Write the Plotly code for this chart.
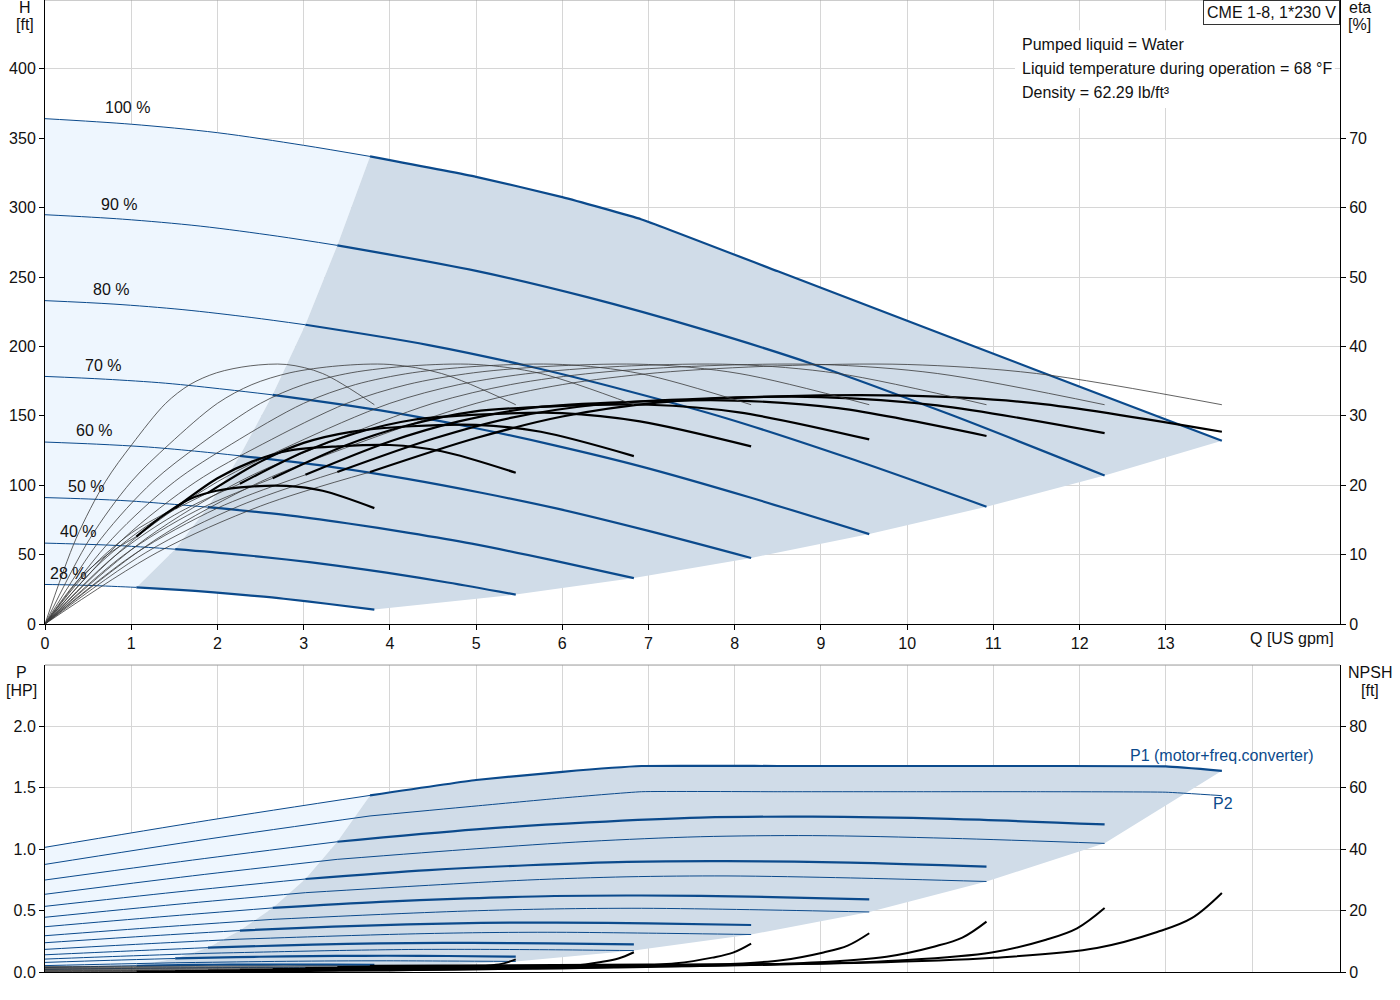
import plotly.graph_objects as go

SPEEDS = ["100 %", "90 %", "80 %", "70 %", "60 %", "50 %", "40 %", "28 %"]

# Q-H curves, below the min. flow (thin part)
H_LOW_Q = [
    [0, 1, 2, 3, 3.77],
    [0, 0.9, 1.8, 2.7, 3.39],
    [0, 0.8, 1.6, 2.4, 3.02],
    [0, 0.7, 1.4, 2.1, 2.64],
    [0, 0.6, 1.2, 1.8, 2.26],
    [0, 0.5, 1.0, 1.5, 1.89],
    [0, 0.4, 0.8, 1.2, 1.51],
    [0, 0.28, 0.56, 0.84, 1.06],
]
H_LOW = [
    [364.1, 360.1, 354.0, 344.9, 336.9],
    [294.9, 291.7, 286.7, 279.4, 272.8],
    [233.0, 230.5, 226.5, 220.8, 215.6],
    [178.4, 176.4, 173.5, 169.0, 165.1],
    [131.1, 129.6, 127.5, 124.2, 121.2],
    [91.1, 90.1, 88.6, 86.2, 84.2],
    [58.3, 57.6, 56.7, 55.2, 53.9],
    [28.5, 28.2, 27.7, 27.0, 26.4],
]

# operating range flows (thick part), used by H, P1 and P2
OP_Q = [
    [3.77, 5.0, 6.0, 6.92, 8.5, 10.0, 11.5, 13.0, 13.65],
    [3.39, 5.0, 6.3, 7.6, 8.9, 10.5, 12.29],
    [3.02, 4.45, 5.6, 6.75, 7.91, 9.34, 10.92],
    [2.64, 3.89, 4.9, 5.91, 6.92, 8.17, 9.56],
    [2.26, 3.34, 4.2, 5.06, 5.93, 7.0, 8.19],
    [1.89, 2.78, 3.5, 4.22, 4.95, 5.84, 6.83],
    [1.51, 2.22, 2.8, 3.38, 3.96, 4.67, 5.46],
    [1.06, 1.56, 1.96, 2.36, 2.77, 3.27, 3.82],
]
H_OP = [
    [336.9, 322.2, 307.6, 291.5, 254.1, 218.5, 182.9, 147.3, 132.1],
    [272.8, 254.4, 235.3, 212.8, 187.4, 150.9, 107.0],
    [215.6, 201.0, 185.9, 168.1, 148.1, 119.2, 84.5],
    [165.1, 153.9, 142.3, 128.7, 113.4, 91.3, 64.8],
    [121.2, 113.1, 104.6, 94.6, 83.3, 67.1, 47.6],
    [84.2, 78.6, 72.6, 65.7, 57.9, 46.6, 33.1],
    [53.9, 50.2, 46.5, 42.1, 37.0, 29.9, 21.2],
    [26.4, 24.6, 22.8, 20.6, 18.2, 14.6, 10.4],
]

# pump efficiency [%] (thin, whole range) - same values for every speed
ETA_PUMP = [0, 12.3, 20.5, 25.9, 31.8, 34.5, 36.2, 37.2, 37.4, 36.1, 31.6]
ETA_PUMP_Q = [
    [0, 1.3, 2.5, 3.6, 5, 6, 7.1, 8.5, 10, 11.5, 13.65],
    [0, 1.17, 2.25, 3.24, 4.5, 5.4, 6.39, 7.65, 9.0, 10.35, 12.29],
    [0, 1.04, 2.0, 2.88, 4.0, 4.8, 5.68, 6.8, 8.0, 9.2, 10.92],
    [0, 0.91, 1.75, 2.52, 3.5, 4.2, 4.97, 5.95, 7.0, 8.05, 9.56],
    [0, 0.78, 1.5, 2.16, 3.0, 3.6, 4.26, 5.1, 6.0, 6.9, 8.19],
    [0, 0.65, 1.25, 1.8, 2.5, 3.0, 3.55, 4.25, 5.0, 5.75, 6.83],
    [0, 0.52, 1.0, 1.44, 2.0, 2.4, 2.84, 3.4, 4.0, 4.6, 5.46],
    [0, 0.36, 0.7, 1.01, 1.4, 1.68, 1.99, 2.38, 2.8, 3.22, 3.82],
]

# total efficiency [%]
ETA_TOT_LOW_Q = [
    [0, 1.3, 2.5, 3.77],
    [0, 1.17, 2.25, 3.39],
    [0, 1.04, 2.0, 3.02],
    [0, 0.91, 1.75, 2.64],
    [0, 0.78, 1.5, 2.26],
    [0, 0.65, 1.25, 1.89],
    [0, 0.52, 1.0, 1.51],
    [0, 0.36, 0.7, 1.06],
]
ETA_TOT_LOW = [
    [0, 10.3, 17.0, 21.9],
    [0, 10.3, 17.0, 21.9],
    [0, 10.1, 16.7, 21.5],
    [0, 9.9, 16.3, 21.0],
    [0, 9.5, 15.7, 20.2],
    [0, 8.9, 14.7, 18.9],
    [0, 7.9, 13.1, 16.7],
    [0, 6.0, 9.8, 12.6],
]
ETA_TOT_OP_Q = [
    [3.77, 5, 6, 7.1, 8.5, 10, 11.5, 13.65],
    [3.39, 4.5, 5.4, 6.39, 7.65, 9.0, 10.35, 12.29],
    [3.02, 4.0, 4.8, 5.68, 6.8, 8.0, 9.2, 10.92],
    [2.64, 3.5, 4.2, 4.97, 5.95, 7.0, 8.05, 9.56],
    [2.26, 3.0, 3.6, 4.26, 5.1, 6.0, 6.9, 8.19],
    [1.89, 2.5, 3.0, 3.55, 4.25, 5.0, 5.75, 6.83],
    [1.51, 2.0, 2.4, 2.84, 3.4, 4.0, 4.6, 5.46],
    [1.06, 1.4, 1.68, 1.99, 2.38, 2.8, 3.22, 3.82],
]
ETA_TOT_OP = [
    [21.9, 26.8, 29.9, 31.9, 32.8, 32.9, 31.8, 27.7],
    [21.9, 26.7, 29.7, 31.6, 32.5, 32.7, 31.5, 27.5],
    [21.5, 26.3, 29.2, 31.2, 32.0, 32.2, 31.1, 27.1],
    [21.0, 25.8, 28.6, 30.6, 31.4, 31.6, 30.5, 26.6],
    [20.2, 24.8, 27.5, 29.4, 30.2, 30.4, 29.2, 25.6],
    [18.9, 23.4, 26.1, 27.7, 28.5, 28.7, 27.7, 24.2],
    [16.7, 21.0, 23.4, 25.0, 25.6, 25.8, 24.9, 21.8],
    [12.6, 15.9, 18.0, 19.2, 19.8, 19.9, 19.2, 16.7],
]

# power curves [HP], below min. flow
P_LOW_Q = [
    [0, 1.9, 3.77],
    [0, 1.71, 3.39],
    [0, 1.52, 3.02],
    [0, 1.33, 2.64],
    [0, 1.14, 2.26],
    [0, 0.95, 1.89],
    [0, 0.76, 1.51],
    [0, 0.53, 1.06],
]
P1_LOW = [
    [1.014, 1.234, 1.436],
    [0.748, 0.910, 1.059],
    [0.534, 0.650, 0.756],
    [0.368, 0.448, 0.521],
    [0.238, 0.290, 0.337],
    [0.140, 0.170, 0.198],
    [0.078, 0.095, 0.110],
    [0.036, 0.044, 0.051],
]
P2_LOW = [
    [0.875, 1.082, 1.269],
    [0.632, 0.782, 0.916],
    [0.445, 0.550, 0.645],
    [0.295, 0.365, 0.428],
    [0.184, 0.228, 0.267],
    [0.105, 0.130, 0.152],
    [0.052, 0.064, 0.075],
    [0.021, 0.026, 0.030],
]
# power curves in operating range (flows = OP_Q)
P1_OP = [
    [1.436, 1.561, 1.628, 1.675, 1.675, 1.675, 1.675, 1.672, 1.636],
    [1.059, 1.160, 1.216, 1.255, 1.263, 1.245, 1.200],
    [0.756, 0.828, 0.868, 0.896, 0.902, 0.889, 0.857],
    [0.521, 0.571, 0.598, 0.618, 0.622, 0.613, 0.590],
    [0.337, 0.369, 0.387, 0.399, 0.402, 0.396, 0.382],
    [0.198, 0.217, 0.228, 0.235, 0.236, 0.233, 0.225],
    [0.110, 0.121, 0.127, 0.131, 0.132, 0.130, 0.125],
    [0.051, 0.056, 0.059, 0.060, 0.061, 0.060, 0.058],
]
P2_OP = [
    [1.269, 1.350, 1.415, 1.466, 1.466, 1.466, 1.466, 1.462, 1.434],
    [0.916, 1.002, 1.062, 1.100, 1.109, 1.087, 1.046],
    [0.645, 0.705, 0.748, 0.774, 0.781, 0.765, 0.736],
    [0.428, 0.468, 0.496, 0.513, 0.518, 0.507, 0.488],
    [0.267, 0.292, 0.309, 0.320, 0.323, 0.316, 0.305],
    [0.152, 0.166, 0.176, 0.183, 0.184, 0.181, 0.174],
    [0.075, 0.082, 0.087, 0.090, 0.091, 0.089, 0.086],
    [0.030, 0.033, 0.035, 0.037, 0.037, 0.036, 0.035],
]

# NPSH [ft]
NPSH_LOW = [
    [1.8, 1.9, 2.0],
    [1.46, 1.54, 1.62],
    [1.15, 1.22, 1.28],
    [0.88, 0.93, 0.98],
    [0.65, 0.68, 0.72],
    [0.45, 0.48, 0.50],
    [0.29, 0.30, 0.32],
    [0.14, 0.15, 0.16],
]
NPSH_OP_Q = [
    [3.77, 7.0, 9.5, 11.0, 12.2, 12.9, 13.3, 13.65],
    [3.39, 6.3, 8.55, 9.9, 10.98, 11.61, 11.97, 12.29],
    [3.02, 5.6, 7.6, 8.8, 9.76, 10.32, 10.64, 10.92],
    [2.64, 4.9, 6.65, 7.7, 8.54, 9.03, 9.31, 9.56],
    [2.26, 4.2, 5.7, 6.6, 7.32, 7.74, 7.98, 8.19],
    [1.89, 3.5, 4.75, 5.5, 6.1, 6.45, 6.65, 6.83],
    [1.51, 2.8, 3.8, 4.4, 4.88, 5.16, 5.32, 5.46],
    [1.06, 1.96, 2.66, 3.08, 3.42, 3.61, 3.72, 3.82],
]
NPSH_OP = [
    [2.0, 2.4, 3.0, 4.6, 7.8, 13.0, 17.5, 25.7],
    [1.62, 1.94, 2.43, 3.73, 6.32, 10.5, 14.2, 20.8],
    [1.28, 1.54, 1.92, 2.94, 4.99, 8.32, 11.2, 16.4],
    [0.98, 1.18, 1.47, 2.25, 3.82, 6.37, 8.58, 12.6],
    [0.72, 0.86, 1.08, 1.66, 2.81, 4.68, 6.3, 9.25],
    [0.50, 0.60, 0.75, 1.15, 1.95, 3.25, 4.38, 6.43],
    [0.32, 0.38, 0.48, 0.74, 1.25, 2.08, 2.8, 4.11],
    [0.16, 0.19, 0.24, 0.36, 0.61, 1.02, 1.37, 2.01],
]

BLUE = "#0b4a8c"
LIGHT = "#eef6fe"
DARK = "#d0dce8"
FONT = "Arial, Liberation Sans, sans-serif"
FS = 16

fig = go.Figure()


def line(x, y, xa, ya, color, width, smooth=0.9):
    fig.add_trace(go.Scatter(
        x=x, y=y, xaxis=xa, yaxis=ya, mode="lines",
        line=dict(color=color, width=width, shape="spline", smoothing=smooth),
        hoverinfo="skip", showlegend=False,
    ))


def area(x, y, xa, ya, color):
    fig.add_trace(go.Scatter(
        x=x, y=y, xaxis=xa, yaxis=ya, mode="lines", fill="toself",
        fillcolor=color, line=dict(width=0), hoverinfo="skip", showlegend=False,
    ))


n = len(SPEEDS)
starts_q = [OP_Q[i][0] for i in range(n)]
ends_q = [OP_Q[i][-1] for i in range(n)]

# shaded areas, top
area(H_LOW_Q[0] + starts_q[1:] + H_LOW_Q[-1][::-1],
     H_LOW[0] + [H_OP[i][0] for i in range(1, n)] + H_LOW[-1][::-1],
     "x", "y", LIGHT)
area(OP_Q[0] + ends_q[1:] + OP_Q[-1][::-1] + starts_q[::-1],
     H_OP[0] + [H_OP[i][-1] for i in range(1, n)] + H_OP[-1][::-1]
     + [H_OP[i][0] for i in range(n)][::-1],
     "x", "y", DARK)

# shaded areas, bottom
area(P_LOW_Q[0] + starts_q[1:] + P_LOW_Q[-1][::-1],
     P1_LOW[0] + [P1_OP[i][0] for i in range(1, n)] + P1_LOW[-1][::-1],
     "x2", "y3", LIGHT)
area(OP_Q[0] + ends_q[1:] + starts_q[::-1],
     P1_OP[0] + [P2_OP[i][-1] for i in range(1, n)]
     + [P1_OP[i][0] for i in range(n)][::-1],
     "x2", "y3", DARK)

for i in range(n):
    kink = 0.35 if i == 0 else 0.9
    # efficiency
    line(ETA_PUMP_Q[i], ETA_PUMP, "x", "y2", "#3a3a3a", 0.8)
    line(ETA_TOT_LOW_Q[i], ETA_TOT_LOW[i], "x", "y2", "#3a3a3a", 0.8)
    line(ETA_TOT_OP_Q[i], ETA_TOT_OP[i], "x", "y2", "#000000", 2.2)
    # head
    line(H_LOW_Q[i], H_LOW[i], "x", "y", BLUE, 1)
    line(OP_Q[i], H_OP[i], "x", "y", BLUE, 2.2, kink)
    # NPSH
    line(P_LOW_Q[i], NPSH_LOW[i], "x2", "y4", "#3a3a3a", 0.8)
    line(NPSH_OP_Q[i], NPSH_OP[i], "x2", "y4", "#000000", 2, 1.0)
    # power
    line(P_LOW_Q[i], P2_LOW[i], "x2", "y3", BLUE, 1)
    line(OP_Q[i], P2_OP[i], "x2", "y3", BLUE, 1, kink)
    line(P_LOW_Q[i], P1_LOW[i], "x2", "y3", BLUE, 1)
    line(OP_Q[i], P1_OP[i], "x2", "y3", BLUE, 2.2, kink)

TOP = [0.358, 1.0]
BOT = [0.0, 0.3158]
XR = [0, 15.02]


def note(x, y, text, xref="paper", yref="paper", xanchor="center", color="#111"):
    return dict(x=x, y=y, xref=xref, yref=yref, text=text, showarrow=False,
                xanchor=xanchor, yanchor="middle", font=dict(size=FS, color=color))


# speed labels
label_x = [0.957, 0.858, 0.765, 0.673, 0.568, 0.475, 0.383, 0.267]
label_y = [371.8, 302.6, 240.7, 186.6, 139.1, 99.4, 67.0, 36.7]
ann = [note(label_x[i], label_y[i], SPEEDS[i], "x", "y") for i in range(n)]

ann += [
    note(-0.0155, 0.9918, "H"),
    note(-0.0155, 0.9743, "[ft]"),
    note(1.0154, 0.9918, "eta"),
    note(1.0154, 0.9743, "[%]"),
    note(-0.0178, 0.3086, "P"),
    note(-0.0178, 0.2901, "[HP]"),
    note(1.0232, 0.3086, "NPSH"),
    note(1.0232, 0.2901, "[ft]"),
    note(14.46, 0.3426, "Q [US gpm]", xref="x"),
    dict(x=1.0, y=1.0, xref="paper", yref="paper", xanchor="right", yanchor="top",
         text="CME 1-8, 1*230 V", showarrow=False, font=dict(size=FS, color="#111"),
         bgcolor="white", bordercolor="#333", borderwidth=1, borderpad=3),
    note(0.7529, 0.9547, "Pumped liquid = Water", xanchor="left"),
    note(0.7529, 0.930, "Liquid temperature during operation = 68 °F", xanchor="left"),
    note(0.7529, 0.9053, "Density = 62.29 lb/ft³", xanchor="left"),
    note(13.65, 1.764, "P1 (motor+freq.converter)", "x2", "y3", color=BLUE),
    note(13.66, 1.374, "P2", "x2", "y3", color=BLUE),
]

shapes = [
    dict(type="rect", xref="paper", yref="paper", x0=0.749, x1=0.996, y0=0.889, y1=0.969,
         fillcolor="white", line=dict(width=0), layer="above"),
    dict(type="line", xref="paper", yref="paper", x0=0, x1=1, y0=TOP[1], y1=TOP[1],
         line=dict(color="#999", width=1)),
    dict(type="line", xref="paper", yref="paper", x0=0, x1=1, y0=BOT[1], y1=BOT[1],
         line=dict(color="#999", width=1)),
]

axis_common = dict(showline=True, linecolor="#000", linewidth=1, ticks="outside",
                   ticklen=5, tickcolor="#000", zeroline=False,
                   tickfont=dict(size=FS, color="#111"))
grid = dict(showgrid=True, gridcolor="#d6d6d6", gridwidth=1)

fig.update_layout(
    width=1400, height=1000, autosize=False,
    margin=dict(l=45, r=60, t=0, b=28),
    paper_bgcolor="white", plot_bgcolor="white",
    font=dict(family=FONT, size=FS, color="#111"),
    showlegend=False,
    xaxis=dict(domain=[0, 1], anchor="y", range=XR, tickmode="array",
               tickvals=list(range(14)), **grid, **axis_common),
    yaxis=dict(domain=TOP, anchor="x", range=[0, 449.6], tickmode="array",
               tickvals=list(range(0, 401, 50)), **grid, **axis_common),
    yaxis2=dict(overlaying="y", side="right", anchor="x", range=[0, 89.92],
                tickmode="array", tickvals=list(range(0, 71, 10)), showgrid=False,
                **axis_common),
    xaxis2=dict(domain=[0, 1], anchor="y3", range=XR, tickmode="array",
                tickvals=list(range(15)), showticklabels=False, **grid,
                showline=True, linecolor="#000", zeroline=False, ticks=""),
    yaxis3=dict(domain=BOT, anchor="x2", range=[0, 2.496], tickmode="array",
                tickvals=[0, 0.5, 1.0, 1.5, 2.0],
                ticktext=["0.0", "0.5", "1.0", "1.5", "2.0"], **grid, **axis_common),
    yaxis4=dict(overlaying="y3", side="right", anchor="x2", range=[0, 99.84],
                tickmode="array", tickvals=list(range(0, 81, 20)), showgrid=False,
                **axis_common),
    annotations=ann,
    shapes=shapes,
)

fig.write_html("out.html", config={"displayModeBar": False},
               post_script="document.body.style.margin='0';")
